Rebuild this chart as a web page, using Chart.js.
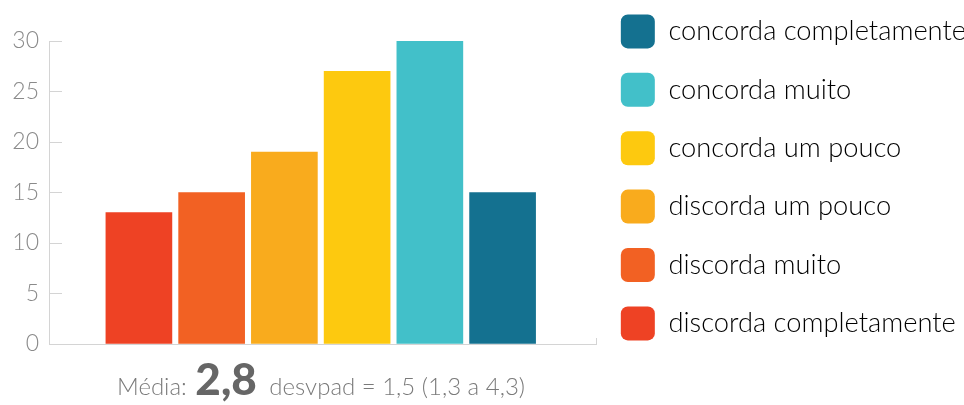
<!DOCTYPE html>
<html lang="pt">
<head>
<meta charset="utf-8">
<script src="https://cdn.jsdelivr.net/npm/chart.js@4"></script>
<style>
  html, body { margin: 0; padding: 0; background: #fff; }
  body { width: 964px; height: 405px; position: relative; overflow: hidden; font-family: Lato, sans-serif; }
  #wrap { position: absolute; left: 0; top: -10px; width: 964px; height: 415px; }
  #resumo {
    position: absolute; left: 0; top: 356px; width: 642px;
    text-align: center; color: #7a7a7a; font-size: 24px; font-weight: 300; line-height: 44px;
    white-space: nowrap;
  }
  #resumo b { font-size: 44px; font-weight: 900; color: #666; margin: 0 6px 0 2px; }
</style>
</head>
<body>
<div id="wrap"><canvas id="barChart"></canvas></div>
<div id="resumo">Média: <b>2,8</b> desvpad = 1,5 (1,3 a 4,3)</div>
<script>
const categorias = ['discorda completamente', 'discorda muito', 'discorda um pouco',
                    'concorda um pouco', 'concorda muito', 'concorda completamente'];
const respostas = [13, 15, 19, 27, 30, 15];
const cores = ['#ee4224', '#f26123', '#f9ab1d', '#fdc90f', '#42c0c9', '#147190'];
const yMax = 30;
const yPasso = 5;

// range of the x axis so that the bars sit in the middle like the original
const xMin = -1.236;
const xMax = 6.29;

const cinza = '#d4d4d4';
let chart;

function initChart() {
    const ctx = document.getElementById('barChart').getContext('2d');
    chart = new Chart(ctx, {
        type: 'bar',
        data: {
            datasets: [{
                data: respostas.map((v, i) => ({ x: i, y: v })),
                backgroundColor: cores,
                borderWidth: 0,
                barThickness: 66
            }]
        },
        options: {
            responsive: true,
            maintainAspectRatio: false,
            animation: false,
            layout: { padding: { left: 0, top: 0, bottom: 0, right: -12 } },
            plugins: {
                tooltip: { enabled: false },
                legend: {
                    position: 'right',
                    align: 'start',
                    maxWidth: 420,
                    labels: {
                        boxWidth: 34,
                        boxHeight: 34,
                        padding: 24.4,
                        color: '#858585',
                        useBorderRadius: true,
                        borderRadius: 7,
                        font: { family: 'Lato', size: 27.3, weight: '300' },
                        generateLabels: () => categorias.map((c, i) => ({
                            text: c,
                            fillStyle: cores[i],
                            strokeStyle: cores[i],
                            lineWidth: 0,
                            borderRadius: 7,
                            hidden: false,
                            datasetIndex: 0,
                            index: i
                        })).reverse()
                    }
                }
            },
            scales: {
                x: {
                    type: 'linear',
                    min: xMin,
                    max: xMax,
                    offset: false,
                    grid: { display: true, offset: false, drawOnChartArea: false, tickLength: -6, color: cinza },
                    border: { color: cinza, width: 1 },
                    ticks: { display: false },
                    afterBuildTicks: s => { s.ticks = [{ value: xMax }]; },
                    afterFit: s => { s.height = 61; }
                },
                xTopo: {
                    type: 'linear',
                    position: 'top',
                    grid: { display: false },
                    border: { display: false },
                    ticks: { display: false },
                    afterFit: s => { s.height = 51; }
                },
                y: {
                    min: 0,
                    max: yMax,
                    grid: { drawOnChartArea: false, tickLength: -13, color: cinza },
                    border: { color: cinza, width: 1 },
                    ticks: {
                        stepSize: yPasso,
                        padding: 23,
                        color: '#8a8a8a',
                        font: { family: 'Lato', size: 23, weight: '300' }
                    },
                    afterFit: s => { s.width = 49; }
                }
            }
        }
    });
}

Promise.all([
    document.fonts.load('300 27.3px Lato'),
    document.fonts.load('900 44px Lato')
]).catch(() => {}).then(initChart);
</script>
</body>
</html>
